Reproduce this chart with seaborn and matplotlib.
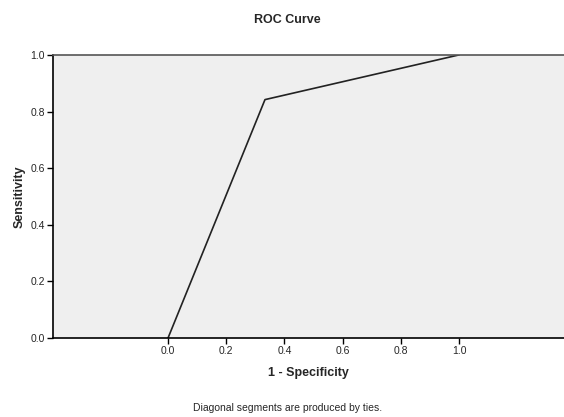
import matplotlib
matplotlib.use("Agg")
import matplotlib.pyplot as plt
import seaborn as sns
import pandas as pd

# ROC points
fpr = [0.0, 0.333, 1.0]
tpr = [0.0, 0.842, 1.0]
ticks = [0.0, 0.2, 0.4, 0.6, 0.8, 1.0]

sns.set_style("white")
plt.rcParams['font.family'] = ['Liberation Sans', 'DejaVu Sans']

roc = pd.DataFrame({'fpr': fpr, 'tpr': tpr})

fig = plt.figure(figsize=(5.64, 4.17), dpi=100)
ax = fig.add_axes([0.094, 0.1894, 0.906, 0.679])
ax.set_facecolor('#efefef')

sns.lineplot(data=roc, x='fpr', y='tpr', ax=ax, color='#222222', linewidth=1.2,
             estimator=None, sort=False)

ax.set_xlim(-0.395, 1.36)
ax.set_ylim(0, 1)
ax.set_xticks(ticks)
ax.set_yticks(ticks)
ax.set_xticklabels([f"{t:.1f}" for t in ticks], fontsize=7.5)
ax.set_yticklabels([f"{t:.1f}" for t in ticks], fontsize=7.5)
ax.tick_params(axis='both', direction='out', length=4, width=1, color='black', pad=2,
               bottom=True, left=True)

ax.spines['right'].set_visible(False)
ax.spines['top'].set_color('#555555')
ax.spines['left'].set_color('black')
ax.spines['bottom'].set_color('black')
for s in ['top', 'left', 'bottom']:
    ax.spines[s].set_linewidth(1.2)

ax.set_xlabel('1 - Specificity', fontsize=9, fontweight='bold', labelpad=8)
ax.set_ylabel('Sensitivity', fontsize=9, fontweight='bold', labelpad=3)
fig.text(0.51, 0.952, 'ROC Curve', ha='center', va='center', fontsize=9,
         fontweight='bold')
fig.text(0.51, 0.022, 'Diagonal segments are produced by ties.', ha='center',
         va='center', fontsize=7.5)

fig.savefig('out.png', dpi=100)
